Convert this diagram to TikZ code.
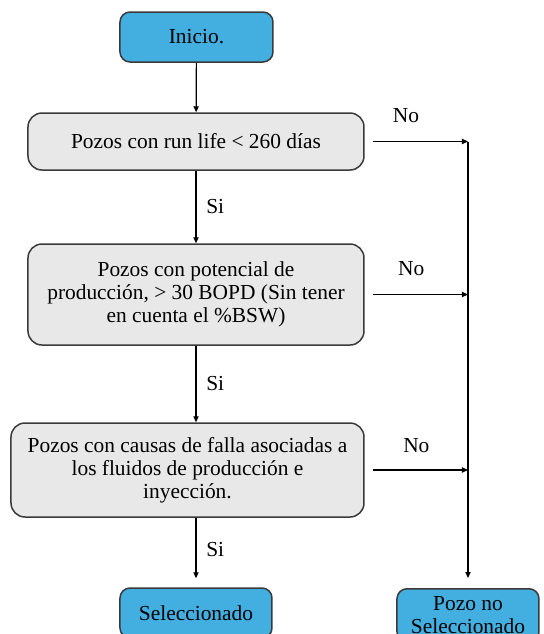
\documentclass[tikz,border=0pt]{standalone}
\usepackage{fontspec}
\setmainfont{Liberation Serif}
\usetikzlibrary{calc,positioning,arrows.meta}
\definecolor{color_fill_start}{HTML}{43AFE0}
\definecolor{color_fill_step}{HTML}{E8E8E8}
\definecolor{color_border}{HTML}{3A3A3A}

\begin{document}
\begin{tikzpicture}[x=0.5pt,y=0.5pt,
		every node/.style={font=\fontsize{10.7}{11.6}\selectfont},
		endbox/.style={draw=color_border,line width=0.75pt,fill=color_fill_start,rounded corners=5pt,align=center,inner sep=2pt},
		stepbox/.style={draw=color_border,line width=0.75pt,fill=color_fill_step,rounded corners=7pt,align=center,inner sep=2pt},
		arr/.style={line width=0.6pt,-{Triangle[length=3pt,width=2.6pt]}}
	]
	\useasboundingbox (0, 0) rectangle (543, -634);
	% Points
	\coordinate (P_inicio) at (196.5, -37);
	\coordinate (P_runlife) at (196, -141.5);
	\coordinate (P_potencial) at (196, -294.5);
	\coordinate (P_causas) at (187.5, -470);
	\coordinate (P_selec) at (196, -613);
	\coordinate (P_noselec) at (468, -588);
	\coordinate (V) at (468, 0);

	% Boxes
	\node[endbox,minimum width=76.5pt,minimum height=25pt] (inicio) at (P_inicio) {Inicio.};
	\node[stepbox,minimum width=168pt,minimum height=28.5pt] (runlife) at (P_runlife)
		{Pozos con run life < 260 días};
	\node[stepbox,minimum width=168pt,minimum height=50.5pt] (potencial) at (P_potencial)
		{Pozos con potencial de\\producción, > 30 BOPD (Sin tener\\en cuenta el \%BSW)};
	\node[stepbox,minimum width=176.5pt,minimum height=47pt] (causas) at (P_causas)
		{Pozos con causas de falla asociadas a\\los fluidos de producción e\\inyección.};
	\node[endbox,minimum width=76pt,minimum height=25pt] (selec) at (P_selec) {Seleccionado};
	\node[endbox,anchor=north,minimum width=71pt,minimum height=26.5pt,inner sep=1pt] (noselec) at (P_noselec)
		{Pozo no\\Seleccionado};

	% Junctions
	\coordinate (J1) at (runlife.east -| V);
	\coordinate (J2) at (potencial.east -| V);
	\coordinate (J3) at (causas.east -| V);

	% Si path
	\draw[arr] (inicio) -- (runlife);
	\draw[arr] (runlife.south) -- (runlife.south |- potencial.north)
		node[pos=0.5,right=1.5pt] {Si};
	\draw[arr] (potencial.south) -- (potencial.south |- causas.north)
		node[pos=0.5,right=1.5pt] {Si};
	\draw[arr,shorten >=4.5pt] (potencial.south |- causas.south) -- (potencial.south |- selec.north)
		node[pos=0.45,right=1.5pt] {Si};

	% No path
	\draw[arr,shorten <=4pt] (runlife.east) -- (J1)
		node[pos=0.4,above=6pt] {No};
	\draw[arr,shorten <=4pt] (potencial.east) -- (J2)
		node[pos=0.45,above=6pt] {No};
	\draw[arr,shorten <=4pt] (causas.east) -- (J3)
		node[pos=0.5,above=5pt] {No};
	\draw[arr,shorten >=5pt] (J1) -- (noselec.north);
\end{tikzpicture}
\end{document}
